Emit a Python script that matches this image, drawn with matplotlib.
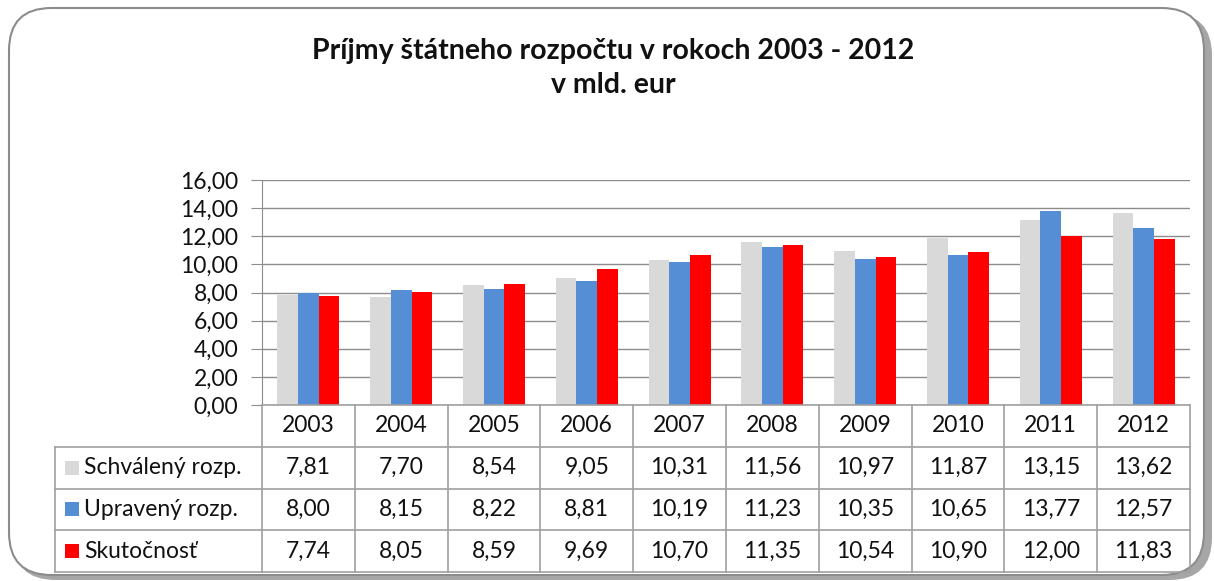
import matplotlib
matplotlib.use("Agg")
import matplotlib.pyplot as plt
import numpy as np
from matplotlib.patches import FancyBboxPatch, Rectangle

# ---------------- data ----------------
years = ["2003", "2004", "2005", "2006", "2007", "2008", "2009", "2010", "2011", "2012"]
series_names = ["Schválený rozp.", "Upravený rozp.", "Skutočnosť"]
schvaleny = [7.81, 7.70, 8.54, 9.05, 10.31, 11.56, 10.97, 11.87, 13.15, 13.62]
upraveny = [8.00, 8.15, 8.22, 8.81, 10.19, 11.23, 10.35, 10.65, 13.77, 12.57]
skutocnost = [7.74, 8.05, 8.59, 9.69, 10.70, 11.35, 10.54, 10.90, 12.00, 11.83]
yticks = [0, 2, 4, 6, 8, 10, 12, 14, 16]
title = "Príjmy štátneho rozpočtu v rokoch 2003 - 2012\nv mld. eur"

colors = ["#D9D9D9", "#558ED5", "#FF0000"]
plt.rcParams['font.family'] = ['Lato', 'DejaVu Sans']

W, H = 1214, 581
fig = plt.figure(figsize=(W / 100, H / 100), dpi=100)
fig.patch.set_facecolor("white")


def fx(px):
    return px / W


def fy(py):
    return 1 - py / H


# frame with shadow
shadow = FancyBboxPatch((fx(13), fy(580)), fx(1199), fy(13) - fy(580),
                        boxstyle="round,pad=0,rounding_size=0.035",
                        transform=fig.transFigure, facecolor="#A6A6A6",
                        edgecolor="none", zorder=0, mutation_aspect=W / H)
fig.patches.append(shadow)
frame = FancyBboxPatch((fx(9), fy(575)), fx(1195), fy(8) - fy(575),
                       boxstyle="round,pad=0,rounding_size=0.035",
                       transform=fig.transFigure, facecolor="white",
                       edgecolor="#8C8C8C", linewidth=1.5, zorder=1,
                       mutation_aspect=W / H)
fig.patches.append(frame)

# title
fig.text(fx(613), fy(68), title, ha="center", va="center", fontsize=20.5,
         fontweight="bold", color="#111111", linespacing=1.4, zorder=5)

# ---------------- bar axes ----------------
L, R, T, B = 262, 1190, 180, 405
ax = fig.add_axes([fx(L), fy(B), fx(R - L), fy(T) - fy(B)])
ax.set_zorder(3)
ax.patch.set_alpha(0)
n = len(years)
x = np.arange(n)
bw = 1 / 4.5
for i, (vals, c) in enumerate(zip([schvaleny, upraveny, skutocnost], colors)):
    ax.bar(x + (i - 1) * bw, vals, width=bw, color=c, zorder=3, linewidth=0)
ax.set_xlim(-0.5, n - 0.5)
ax.set_ylim(0, 16)
ax.set_yticks(yticks)
ax.set_yticklabels([f"{v:.2f}".replace(".", ",") for v in yticks],
                   fontsize=16.5, color="#111111")
ax.set_xticks([])
ax.yaxis.grid(True, color="#8C8C8C", linewidth=1)
ax.set_axisbelow(True)
for s in ["top", "right", "bottom"]:
    ax.spines[s].set_visible(False)
ax.spines["left"].set_color("#8C8C8C")
ax.tick_params(axis="y", length=8, color="#8C8C8C", pad=9)

# ---------------- data table ----------------
TL, TB = 55, 572
cat_px = (R - L) / n
tax = fig.add_axes([fx(TL), fy(TB), fx(R - TL), fy(B) - fy(TB)])
tax.set_zorder(3)
tax.patch.set_alpha(0)
x_left = -0.5 - (L - TL) / cat_px
tax.set_xlim(x_left, n - 0.5)
tax.set_ylim(4, 0)
tax.axis("off")
lc = "#A0A0A0"
lw = 1.2
tax.plot([-0.5, n - 0.5], [0, 0], color=lc, lw=lw, clip_on=False)
for r in [1, 2, 3, 4]:
    tax.plot([x_left, n - 0.5], [r, r], color=lc, lw=lw, clip_on=False)
for k in range(n + 1):
    tax.plot([k - 0.5, k - 0.5], [0, 4], color=lc, lw=lw, clip_on=False)
tax.plot([x_left, x_left], [1, 4], color=lc, lw=lw, clip_on=False)

fs = 16.5
for j, yr in enumerate(years):
    tax.text(j, 0.5, yr, ha="center", va="center", fontsize=fs, color="#111111")
for r, (name, vals, c) in enumerate(zip(series_names,
                                        [schvaleny, upraveny, skutocnost],
                                        colors)):
    yc = r + 1.5
    tax.add_patch(Rectangle((x_left + 10 / cat_px, yc - 0.17), 14 / cat_px, 0.34,
                            facecolor=c, edgecolor="none", clip_on=False))
    tax.text(x_left + 29 / cat_px, yc, name, ha="left", va="center",
             fontsize=fs, color="#111111")
    for j, v in enumerate(vals):
        tax.text(j, yc, f"{v:.2f}".replace(".", ","), ha="center", va="center",
                 fontsize=fs, color="#111111")

fig.savefig("out.png", dpi=100, facecolor="white")
